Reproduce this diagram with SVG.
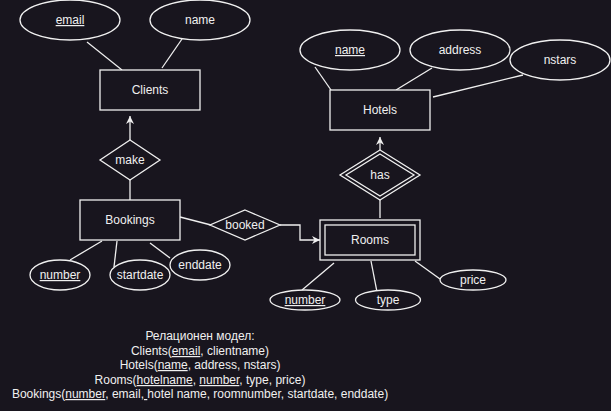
<svg xmlns="http://www.w3.org/2000/svg" width="611" height="411" viewBox="0 0 611 411">
<style>
.s{fill:#18151e;stroke:#f0f0f0;stroke-width:1.3}
.l{fill:none;stroke:#f0f0f0;stroke-width:1.3}
text{font-family:"Liberation Sans",Arial,sans-serif;font-size:12px;fill:#f0f0f0;text-anchor:middle}
.u{text-decoration:underline}
</style>
<defs>
<marker id="ar" viewBox="0 0 10 10" refX="10" refY="5" markerWidth="8" markerHeight="8" markerUnits="userSpaceOnUse" orient="auto">
<path d="M0,0 L10,5 L0,10 L3,5 Z" fill="#f0f0f0"/>
</marker>
</defs>
<rect width="611" height="411" fill="#18151e"/>
<g id="connectors">
<line class="l" x1="87" y1="42" x2="122" y2="70"/>
<line class="l" x1="182" y1="39" x2="162" y2="68"/>
<line class="l" x1="315" y1="67" x2="331" y2="90"/>
<line class="l" x1="432" y1="68" x2="396" y2="90"/>
<line class="l" x1="523" y1="75" x2="433" y2="97"/>
<line class="l" x1="130" y1="140" x2="130" y2="116" marker-end="url(#ar)"/>
<line class="l" x1="130" y1="180" x2="130" y2="200"/>
<line class="l" x1="380" y1="150" x2="380" y2="137" marker-end="url(#ar)"/>
<line class="l" x1="380" y1="200" x2="380" y2="218"/>
<line class="l" x1="180" y1="217" x2="211" y2="225"/>
<polyline class="l" points="280,225 300,225 300,240 320,240" marker-end="url(#ar)"/>
<line class="l" x1="70" y1="260" x2="102" y2="241"/>
<line class="l" x1="114" y1="267" x2="117" y2="241"/>
<line class="l" x1="170" y1="258" x2="150" y2="243"/>
<line class="l" x1="302" y1="290" x2="334" y2="263"/>
<line class="l" x1="377" y1="292" x2="371" y2="261"/>
<line class="l" x1="440" y1="279" x2="415" y2="261"/>
</g>
<g id="email"><ellipse class="s" cx="70" cy="20" rx="50" ry="20"/><text x="70" y="24" class="u">email</text></g>
<g id="cname"><ellipse class="s" cx="200" cy="20" rx="50" ry="20"/><text x="200" y="24">name</text></g>
<g id="clients"><rect class="s" x="100" y="70" width="100" height="40"/><text x="150" y="94">Clients</text></g>
<g id="hname"><ellipse class="s" cx="350" cy="50" rx="50" ry="20"/><text x="350" y="54" class="u">name</text></g>
<g id="address"><ellipse class="s" cx="460" cy="50" rx="50" ry="20"/><text x="460" y="54">address</text></g>
<g id="nstars"><ellipse class="s" cx="560" cy="60" rx="50" ry="20"/><text x="560" y="64">nstars</text></g>
<g id="hotels"><rect class="s" x="330" y="90" width="100" height="40"/><text x="380" y="114">Hotels</text></g>
<g id="make"><polygon class="s" points="130,140 160,160 130,180 100,160"/><text x="130" y="164">make</text></g>
<g id="has"><polygon class="s" points="380,150 420,175 380,200 340,175"/><polygon class="l" points="380,154 414,175 380,196 346,175"/><text x="380" y="179">has</text></g>
<g id="bookings"><rect class="s" x="80" y="200" width="100" height="40"/><text x="130" y="224">Bookings</text></g>
<g id="booked"><polygon class="s" points="245,210 280,225 245,240 210,225"/><text x="245" y="229">booked</text></g>
<g id="rooms"><rect class="s" x="320" y="220" width="100" height="40"/><rect class="l" x="325" y="225" width="90" height="30"/><text x="370" y="244">Rooms</text></g>
<g id="bnumber"><ellipse class="s" cx="60" cy="275" rx="30" ry="15"/><text x="60" y="279" class="u">number</text></g>
<g id="startdate"><ellipse class="s" cx="140" cy="275" rx="30" ry="15"/><text x="140" y="279">startdate</text></g>
<g id="enddate"><ellipse class="s" cx="200" cy="265" rx="30" ry="15"/><text x="200" y="269">enddate</text></g>
<g id="rnumber"><ellipse class="s" cx="305" cy="300" rx="35" ry="10"/><text x="305" y="304" class="u">number</text></g>
<g id="type"><ellipse class="s" cx="388" cy="300" rx="32.5" ry="10"/><text x="388" y="304">type</text></g>
<g id="price"><ellipse class="s" cx="473" cy="280" rx="33" ry="10"/><text x="473" y="284">price</text></g>
<g id="relational" xml:space="preserve">
<text x="200" y="340">Релационен модел:</text>
<text x="200" y="355">Clients(<tspan class="u">email</tspan>, clientname)</text>
<text x="200" y="369">Hotels(<tspan class="u">name</tspan>, address, nstars)</text>
<text x="200" y="384">Rooms(<tspan class="u">hotelname</tspan>, <tspan class="u">number</tspan>, type, price)</text>
<text x="200" y="398">Bookings(<tspan class="u">number</tspan>, email,<tspan class="u"> </tspan>hotel name, roomnumber, startdate, enddate)</text>
</g>
</svg>
